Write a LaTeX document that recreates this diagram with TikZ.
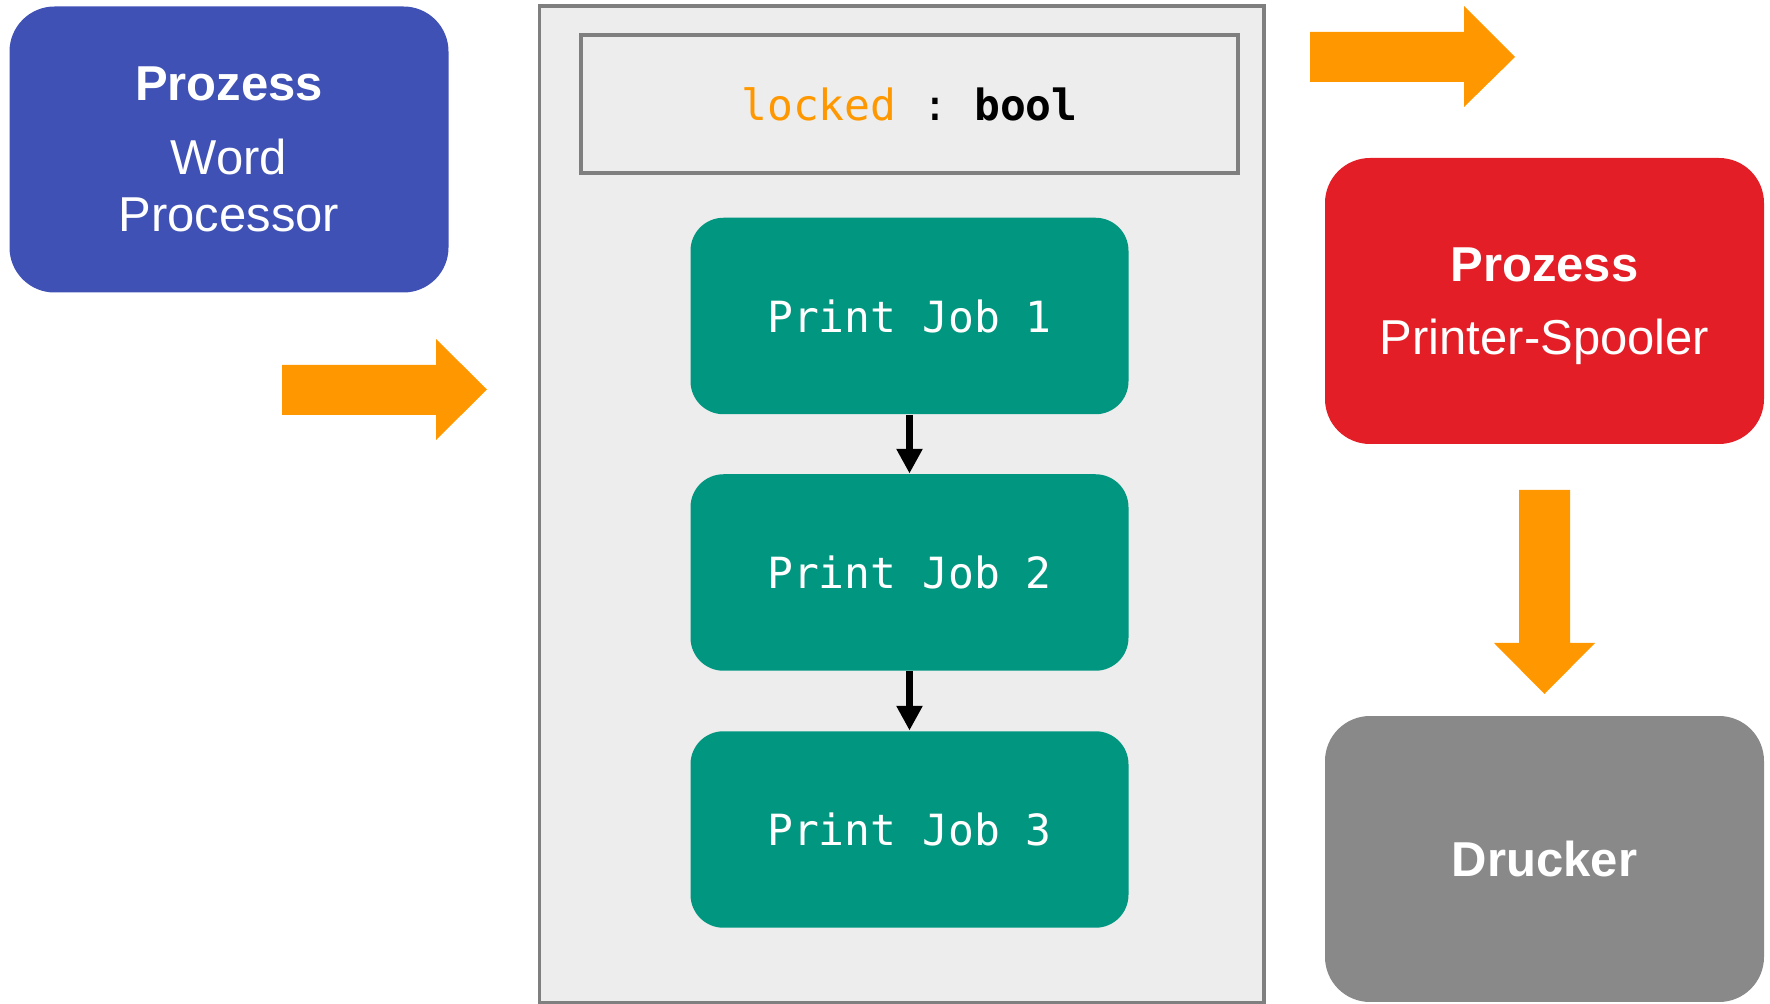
\documentclass[tikz,border=0pt]{standalone}
\usepackage{fontspec}
\setmainfont{Liberation Sans}
\setmonofont{DejaVu Sans Mono}
\usetikzlibrary{arrows.meta}
\definecolor{procblue}{HTML}{3F51B5}
\definecolor{procred}{HTML}{E41E26}
\definecolor{printgray}{HTML}{898989}
\definecolor{arroworange}{HTML}{FF9800}
\definecolor{jobteal}{HTML}{009680}
\definecolor{queuefill}{HTML}{EDEDED}
\definecolor{queueline}{HTML}{7F7F7F}
\begin{document}
\begin{tikzpicture}[x=0.1mm,y=-0.1mm,
  procbox/.style={rounded corners=4.5mm, minimum width=43.9mm, minimum height=28.6mm,
    inner sep=0pt, text=white, align=center, font=\fontsize{13.94}{16.2}\selectfont},
  jobbox/.style={fill=jobteal, rounded corners=3.3mm, minimum width=43.8mm,
    minimum height=19.65mm, inner sep=0pt, text=white,
    font=\fontsize{12.23}{14}\selectfont\ttfamily},
  blockarrow/.style={fill=arroworange},
  jobarrow/.style={line width=2.1pt, -{Triangle[length=7pt,width=7pt]}}
]
\useasboundingbox (0,0) rectangle (1770,1004);

% queue container
\draw[fill=queuefill, draw=queueline, line width=1pt] (539.5,6) rectangle (1264,1003);
\node[draw=queueline, line width=1.15pt, fill=queuefill, minimum width=65.7mm,
  minimum height=13.8mm, inner sep=0pt, font=\fontsize{12.23}{14}\selectfont\ttfamily]
  (lock) at (909.5,104) {{\color{arroworange}locked} : \textbf{bool}};

% print jobs
\node[jobbox] (job1) at (909.5,316) {Print Job 1};
\node[jobbox] (job2) at (909.5,572.5) {Print Job 2};
\node[jobbox] (job3) at (909.5,829.5) {Print Job 3};
\draw[jobarrow] (job1.south) -- (job2.north);
\draw[jobarrow] (job2.south) -- (job3.north);

% processes
\node[procbox, fill=procblue] (wp) at (229,149.5)
  {\textbf{Prozess}\\[4.8pt]Word\\Processor};
\node[procbox, fill=procred] (spool) at (1544.5,301)
  {\textbf{Prozess}\\[4.6pt]Printer-Spooler\rule[-1.7mm]{0pt}{0pt}\\[-16.2pt]\mbox{}};
\node[procbox, fill=printgray] (printer) at (1544.5,859) {\textbf{Drucker}};

% block arrows
\fill[blockarrow] (282,365) -- (436,365) -- (436,339) -- (487,389.5) -- (436,440)
  -- (436,415) -- (282,415) -- cycle;
\fill[blockarrow] (1310,32) -- (1464,32) -- (1464,6) -- (1515,57) -- (1464,107)
  -- (1464,82) -- (1310,82) -- cycle;
\fill[blockarrow] (1519,490) -- (1570,490) -- (1570,643) -- (1595,643) -- (1544.5,694)
  -- (1494,643) -- (1519,643) -- cycle;
\end{tikzpicture}
\end{document}
